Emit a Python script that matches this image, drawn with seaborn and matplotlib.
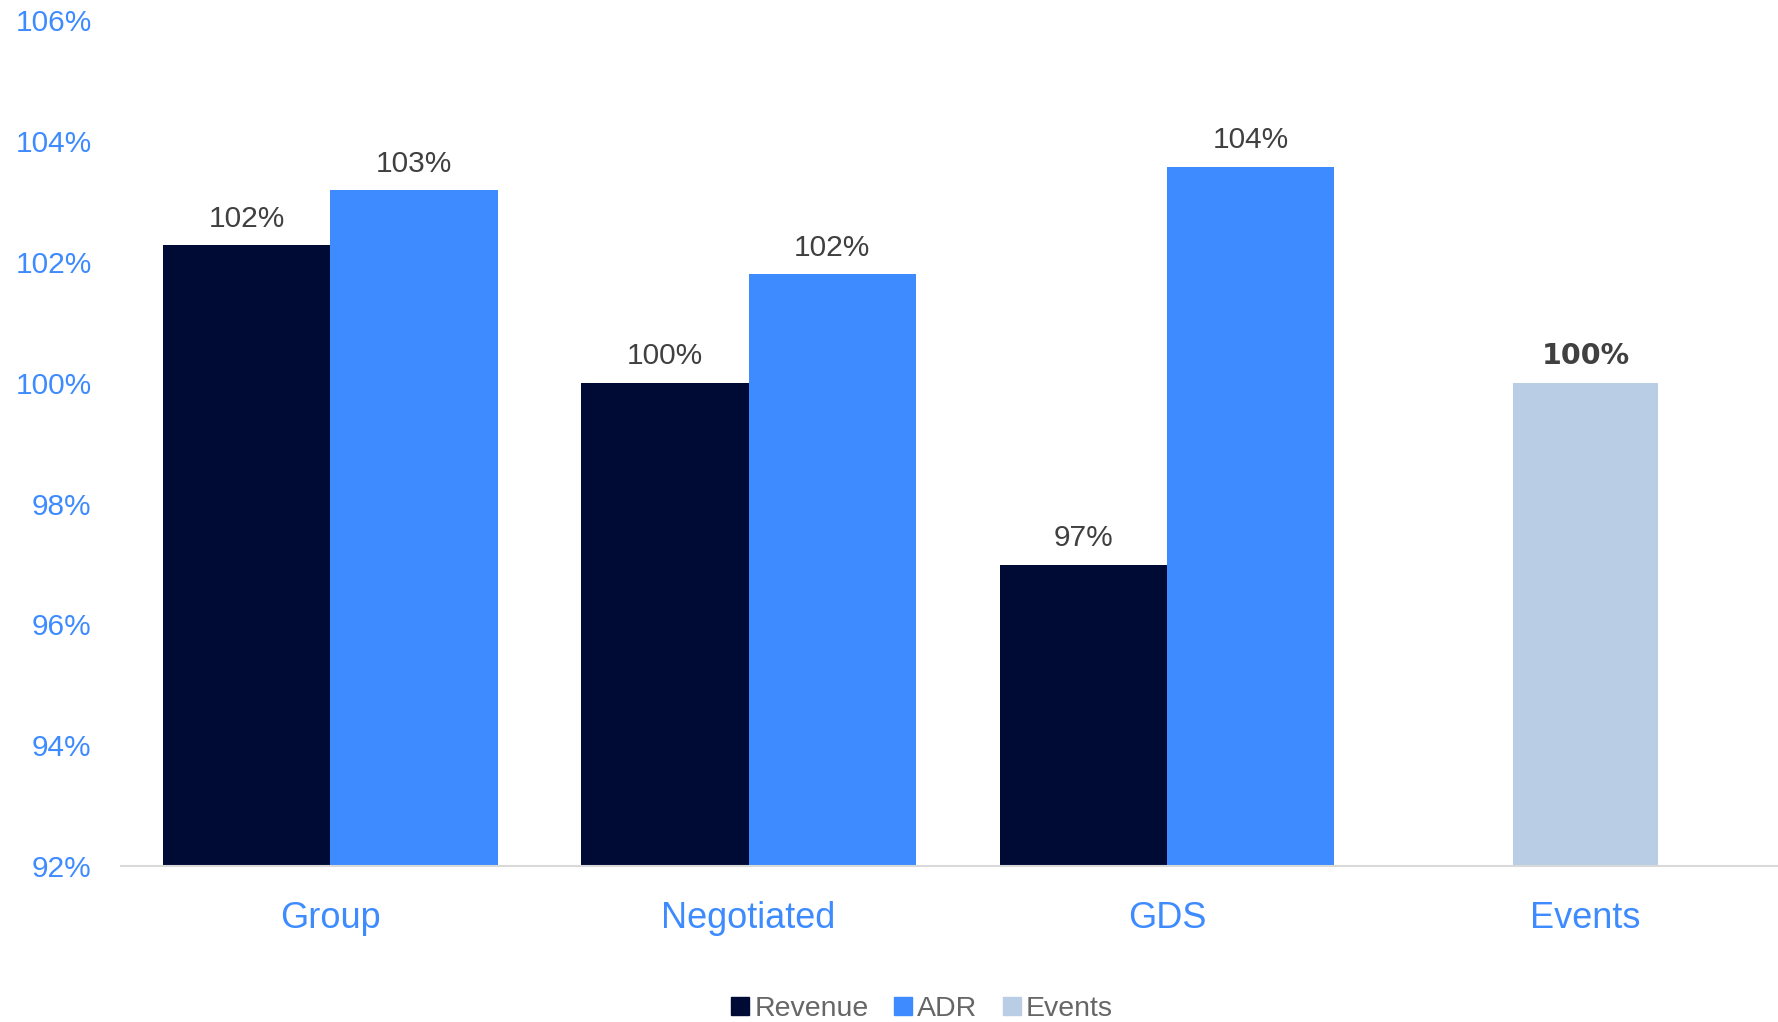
import pandas as pd
import matplotlib.pyplot as plt
import seaborn as sns
from matplotlib.lines import Line2D

# Chart values
categories = ["Group", "Negotiated", "GDS", "Events"]
pair_categories = ["Group", "Negotiated", "GDS"]
revenue = [102.28, 100.0, 96.99]
adr = [103.19, 101.8, 103.58]
events = [100.0]

colors = {"Revenue": "#000B35", "ADR": "#3D8BFF", "Events": "#B9CDE5"}

df_pairs = pd.DataFrame({
    "category": pair_categories * 2,
    "series": ["Revenue"] * 3 + ["ADR"] * 3,
    "value": revenue + adr,
})
df_events = pd.DataFrame({"category": ["Events"], "value": events})

sns.set_style("white")
plt.rcParams['font.family'] = ['Liberation Sans', 'DejaVu Sans']

fig = plt.figure(figsize=(17.78, 10.22), dpi=100)
ax = fig.add_axes([0.068, 0.1526, 0.932, 0.8274])

sns.barplot(data=df_pairs, x="category", y="value", hue="series",
            order=categories, hue_order=["Revenue", "ADR"],
            palette=colors, width=0.8, saturation=1, legend=False,
            linewidth=0, ax=ax)
sns.barplot(data=df_events, x="category", y="value", order=categories,
            color=colors["Events"], width=0.345, saturation=1,
            linewidth=0, ax=ax)

# Value labels
for i, cont in enumerate(ax.containers):
    is_events = i == len(ax.containers) - 1
    ax.bar_label(cont, fmt="{:.0f}%", padding=9,
                 fontsize=20.5 if is_events else 21.5,
                 color="#404040",
                 fontweight="bold" if is_events else "normal",
                 family=["DejaVu Sans"] if is_events else None)

# Axes styling
ax.set_ylim(92, 106)
ax.set_xlim(-0.5, 3.46)
ax.set_yticks(range(92, 107, 2))
ax.set_yticklabels([f"{t}%" for t in range(92, 107, 2)])
ax.tick_params(axis="y", labelsize=21.5, labelcolor="#3D8BFF", length=0, pad=21)
ax.tick_params(axis="x", labelsize=26, labelcolor="#3D8BFF", length=0, pad=25)
ax.set_xlabel("")
ax.set_ylabel("")
for s in ["top", "right", "left"]:
    ax.spines[s].set_visible(False)
ax.spines["bottom"].set_color("#D9D9D9")
ax.spines["bottom"].set_linewidth(1.5)

# Legend
handles = [Line2D([], [], marker="s", linestyle="", markersize=13,
                  color=colors[k]) for k in ["Revenue", "ADR", "Events"]]
fig.legend(handles, ["Revenue", "ADR", "Events"], loc="center",
           bbox_to_anchor=(0.518, 0.0127), ncol=3, frameon=False,
           fontsize=20.5, labelcolor="#666666", handletextpad=0.1,
           columnspacing=0.8, handlelength=0.8)

fig.savefig("out.png", dpi=100)
